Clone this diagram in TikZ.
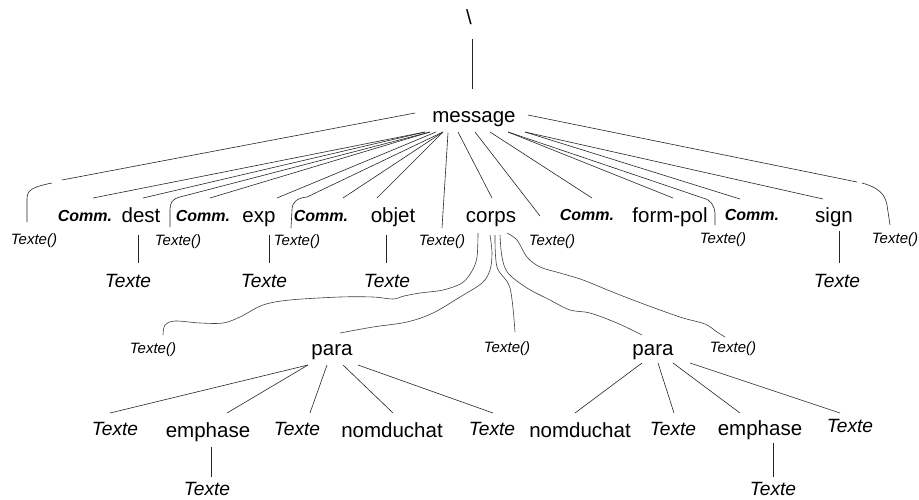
\documentclass[tikz,border=0pt]{standalone}
\usepackage{fontspec}
\setmainfont{Liberation Sans}
\usetikzlibrary{calc}
\begin{document}
\begin{tikzpicture}[x=1pt,y=-1pt,
  lblst/.style={anchor=base, inner sep=0pt, font=\fontsize{20.5}{24}\selectfont},
  txst/.style={anchor=base, inner sep=0pt, font=\fontsize{19.2}{22}\selectfont\itshape},
  commst/.style={anchor=base, inner sep=0pt, font=\fontsize{16}{18}\selectfont\bfseries\itshape},
  tpst/.style={anchor=base, inner sep=0pt, font=\fontsize{15}{18}\selectfont\itshape},
  conn/.style={draw=black!85, line width=0.6pt},
  wavy/.style={draw=black!75, line width=0.6pt, smooth, tension=0.55}]
\fill[white] (0,0) rectangle (919,499);
\useasboundingbox (0,0) rectangle (919,499);
% ---- nodes
\node[lblst] (bs) at (469,24) {\textbackslash};
\node[lblst] (m) at (474,122) {message};
\node[tpst] (T1) at (34,244) {Texte()};
\node[commst] (C1) at (85,221) {Comm.};
\node[lblst] (dest) at (141,222) {dest};
\node[commst] (C2) at (203,221) {Comm.};
\node[tpst] (T2) at (178,245) {Texte()};
\node[lblst] (exp) at (259,222) {exp};
\node[commst] (C3) at (321,221) {Comm.};
\node[tpst] (T3) at (297,245) {Texte()};
\node[lblst] (objet) at (393,222) {objet};
\node[tpst] (T4) at (442,245) {Texte()};
\node[lblst] (corps) at (491,222) {corps};
\node[tpst] (T5) at (552,245) {Texte()};
\node[commst] (C4) at (587,220) {Comm.};
\node[lblst] (fp) at (670,222) {form-pol};
\node[tpst] (T6) at (723,243) {Texte()};
\node[commst] (C5) at (752,220) {Comm.};
\node[lblst] (sign) at (834,222) {sign};
\node[tpst] (T7) at (895,243) {Texte()};
\node[txst] (X1) at (128,287) {Texte};
\node[txst] (X2) at (264,287) {Texte};
\node[txst] (X3) at (387,287) {Texte};
\node[txst] (X4) at (837,287) {Texte};
\node[tpst] (T8) at (153,353) {Texte()};
\node[lblst] (p1) at (332,355) {para};
\node[tpst] (T9) at (507,352) {Texte()};
\node[lblst] (p2) at (653,355) {para};
\node[tpst] (T10) at (733,352) {Texte()};
\node[txst] (b1) at (115,435) {Texte};
\node[lblst] (b2) at (208,437) {emphase};
\node[txst] (b3) at (297,435) {Texte};
\node[lblst] (b4) at (392,437) {nomduchat};
\node[txst] (b5) at (492,435) {Texte};
\node[lblst] (b6) at (580,437) {nomduchat};
\node[txst] (b7) at (673,435) {Texte};
\node[lblst] (b8) at (760,435) {emphase};
\node[txst] (b9) at (850,432) {Texte};
\node[txst] (bb1) at (207,495) {Texte};
\node[txst] (bb2) at (773,495) {Texte};
% ---- fan points of message
\coordinate (fa) at ($(m.base)+(-49,10)$);
\coordinate (fb) at ($(m.base)+(-44,10)$);
\coordinate (fc) at ($(m.base)+(-38,10)$);
\coordinate (fd) at ($(m.base)+(-31,10)$);
\coordinate (fe) at ($(m.base)+(-26,11)$);
\coordinate (ff) at ($(m.base)+(-16,10)$);
\coordinate (fg) at ($(m.base)+(1,10)$);
\coordinate (fh) at ($(m.base)+(16,10)$);
\coordinate (fi) at ($(m.base)+(34,10)$);
\coordinate (fj) at ($(m.base)+(51,10)$);
% ---- connectors
\draw[conn] ($(bs.base)+(3,15)$) -- ($(m.base)+(-2,-33)$);
\draw[conn] ($(m.base)+(-59,-9)$) -- ($(T1.base)+(28,-64)$);
\draw[conn] ($(T1.base)+(18,-61)$) .. controls ($(T1.base)+(-2,-57)$) and ($(T1.base)+(-7,-54)$) .. ($(T1.base)+(-7,-45)$) -- ($(T1.base)+(-7,-22)$);
\draw[conn] (fa) -- ($(C1.base)+(8,-23)$);
\draw[conn] (fa) -- ($(dest.base)+(2,-24)$);
\draw[conn] (fb) -- ($(T2.base)+(2,-48)$) .. controls ($(T2.base)+(-6,-46)$) and ($(T2.base)+(-8,-42)$) .. ($(T2.base)+(-8,-35)$) -- ($(T2.base)+(-8,-18)$);
\draw[conn] (fb) -- ($(C2.base)+(7,-23)$);
\draw[conn] (fc) -- ($(exp.base)+(18,-24)$);
\draw[conn] (fd) -- ($(T3.base)+(10,-48)$) .. controls ($(T3.base)+(0,-47)$) and ($(T3.base)+(-5,-43)$) .. ($(T3.base)+(-5,-35)$) -- ($(T3.base)+(-6,-17)$);
\draw[conn] (fd) -- ($(C3.base)+(22,-23)$);
\draw[conn] (fd) -- ($(objet.base)+(-16,-24)$);
\draw[conn] (fe) -- ($(T4.base)+(0,-17)$);
\draw[conn] (ff) -- ($(corps.base)+(1,-24)$);
\draw[conn] (fg) -- ($(T5.base)+(-12,-29)$);
\draw[conn] (fh) -- ($(C4.base)+(5,-22)$);
\draw[conn] (fi) -- ($(fp.base)+(3,-24)$);
\draw[conn] (fi) -- ($(T6.base)+(-20,-45)$) .. controls ($(T6.base)+(-12,-43)$) and ($(T6.base)+(-9,-38)$) .. ($(T6.base)+(-8,-30)$) -- ($(T6.base)+(-8,-18)$);
\draw[conn] (fj) -- ($(C5.base)+(-12,-21)$);
\draw[conn] (fj) -- ($(sign.base)+(-11,-23)$);
\draw[conn] ($(m.base)+(54,-7)$) -- ($(T7.base)+(-38,-61)$);
\draw[conn] ($(T7.base)+(-33,-60)$) .. controls ($(T7.base)+(-15,-55)$) and ($(T7.base)+(-10,-48)$) .. ($(T7.base)+(-8,-38)$) -- ($(T7.base)+(-5,-18)$);
% vertical
\draw[conn] ($(dest.base)+(-3,13)$) -- ($(X1.base)+(10,-24)$);
\draw[conn] ($(exp.base)+(10,13)$) -- ($(X2.base)+(5,-24)$);
\draw[conn] ($(objet.base)+(-7,13)$) -- ($(X3.base)+(-1,-24)$);
\draw[conn] ($(sign.base)+(5,9)$) -- ($(X4.base)+(2,-24)$);
% corps curves
\draw[wavy] plot coordinates {($(corps.base)+(-13,11)$) (477,257) (472,271) (462,283) (443,290) (420,293) (404,296) (393,299) (373,297) (340,297) (290,300) (263,305) (240,317) (223,323) (200,323) (175,321) (165,325) ($(T8.base)+(10,-18)$)};
\draw[wavy] plot coordinates {($(corps.base)+(-1,13)$) (492,253) (490,270) (482,283) (460,297) (433,313) (407,322) (373,327) ($(p1.base)+(8,-22)$)};
\draw[wavy] plot coordinates {($(corps.base)+(4,13)$) (497,267) (510,288) ($(T9.base)+(8,-20)$)};
\draw[wavy] plot coordinates {($(corps.base)+(9,13)$) (502,257) (508,273) (527,288) (550,300) (570,310) (590,313) (617,323) ($(p2.base)+(-11,-20)$)};
\draw[wavy] plot coordinates {($(corps.base)+(16,11)$) (517,240) (527,257) (540,267) (560,273) (583,280) (610,291) (633,300) (660,310) (683,318) (705,324) (717,332) ($(T10.base)+(-8,-15)$)};
% para 1
\draw[conn] ($(p1.base)+(-24,10)$) -- ($(b1.base)+(-5,-22)$);
\draw[conn] ($(p1.base)+(-24,10)$) -- ($(b2.base)+(19,-24)$);
\draw[conn] ($(p1.base)+(-5,10)$) -- ($(b3.base)+(13,-22)$);
\draw[conn] ($(p1.base)+(11,10)$) -- ($(b4.base)+(1,-24)$);
\draw[conn] ($(p1.base)+(26,10)$) -- ($(b5.base)+(1,-22)$);
% para 2
\draw[conn] ($(p2.base)+(-11,8)$) -- ($(b6.base)+(-5,-24)$);
\draw[conn] ($(p2.base)+(5,8)$) -- ($(b7.base)+(1,-22)$);
\draw[conn] ($(p2.base)+(20,8)$) -- ($(b8.base)+(-20,-22)$);
\draw[conn] ($(p2.base)+(37,8)$) -- ($(b9.base)+(-10,-19)$);
% emphase
\draw[conn] ($(b2.base)+(3,10)$) -- ($(bb1.base)+(4,-18)$);
\draw[conn] ($(b8.base)+(13,8)$) -- ($(bb2.base)+(0,-18)$);
\end{tikzpicture}
\end{document}
